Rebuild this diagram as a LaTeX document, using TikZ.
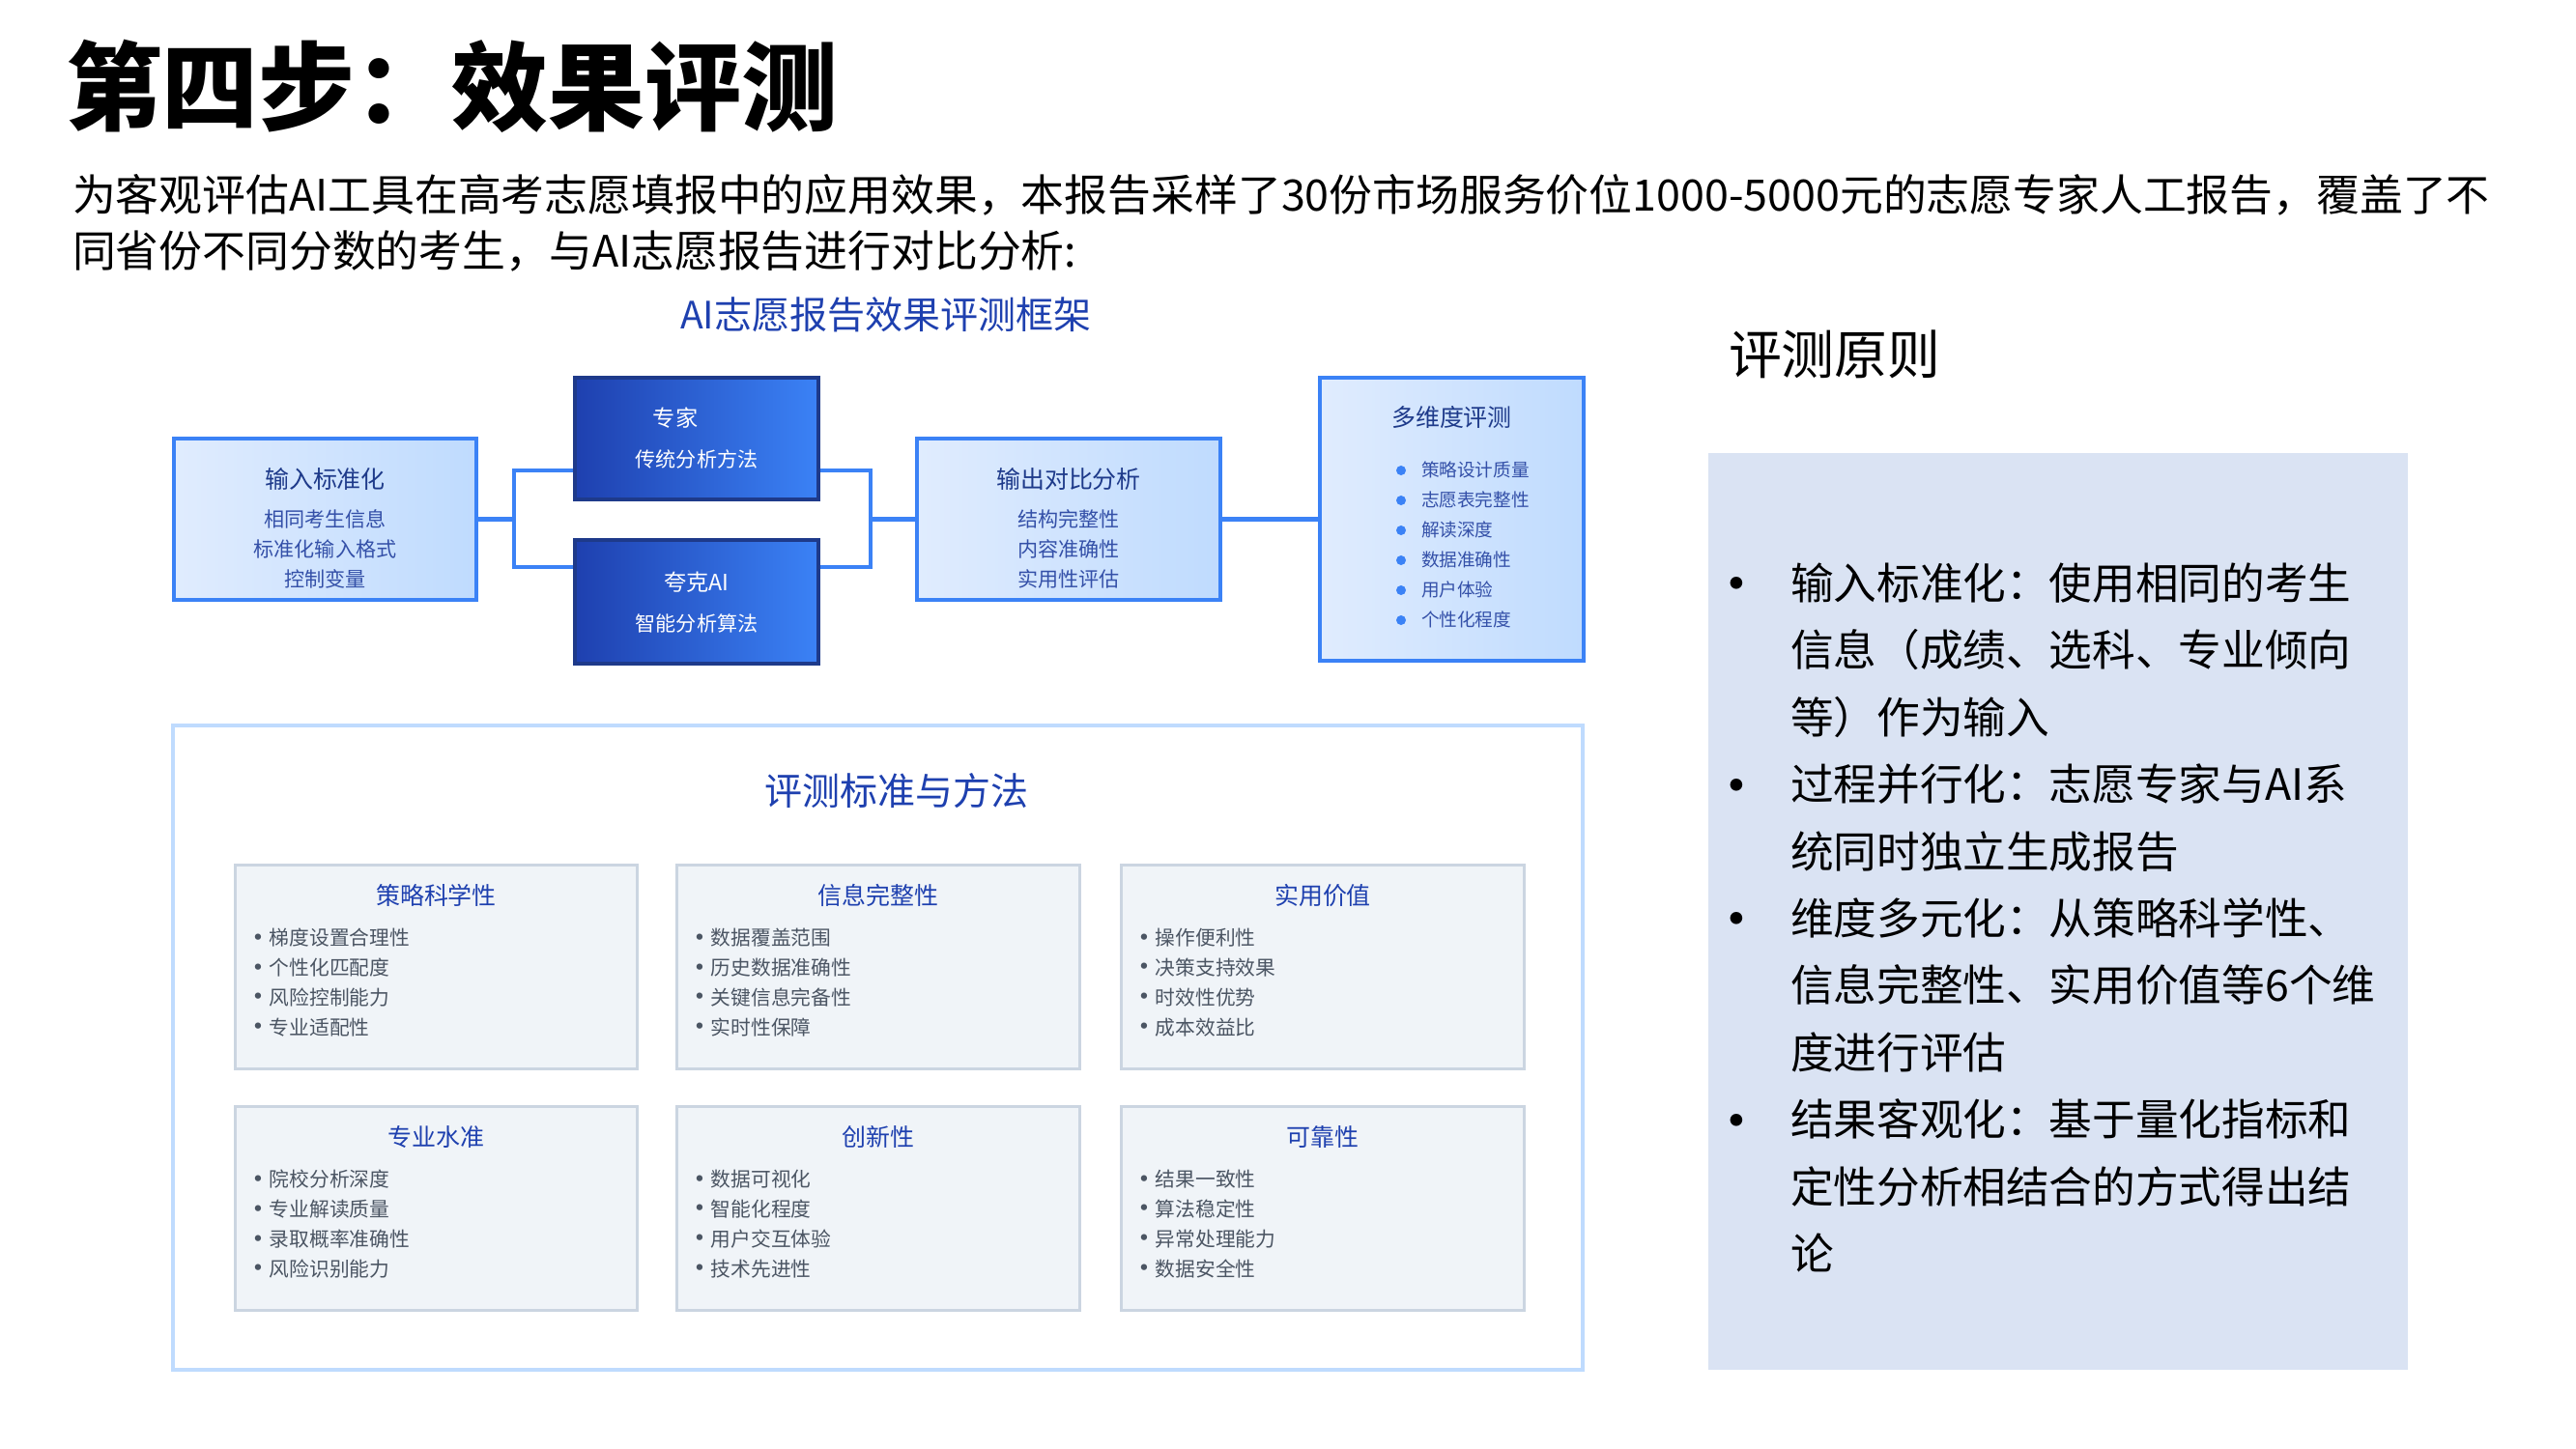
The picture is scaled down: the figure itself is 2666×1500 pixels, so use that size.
\documentclass[tikz,border=0pt]{standalone}
\usepackage{fontspec}
\setmainfont{Noto Sans CJK SC}
\usetikzlibrary{positioning}
\definecolor{cfline}{RGB}{59,130,246}
\definecolor{cflightL}{RGB}{224,236,254}
\definecolor{cflightR}{RGB}{191,219,254}
\definecolor{cfdeep}{RGB}{30,64,175}
\definecolor{cfnavy}{RGB}{30,58,138}
\definecolor{cfsub}{RGB}{52,80,168}
\definecolor{cfpale}{RGB}{191,219,254}
\definecolor{cfcard}{RGB}{240,244,248}
\definecolor{cfcardline}{RGB}{203,213,225}
\definecolor{cfgray}{RGB}{75,85,99}
\definecolor{cfpanel}{RGB}{218,227,243}
\newcommand{\rulebullet}{\llap{\makebox[15.9pt][l]{\makebox[0pt]{\raisebox{-1.8pt}{\fontsize{17}{17}\selectfont •}}}}}
\newcommand{\cardbullet}{\makebox[3.4pt][l]{\makebox[0pt]{\raisebox{-0.7pt}{\fontsize{8.5}{8.5}\selectfont •}}}}

\begin{document}
\begin{tikzpicture}[x=0.01cm, y=-0.01cm]
  \tikzset{
    txt/.style={inner sep=0pt, outer sep=0pt},
    lightbox/.style={draw=cfline, line width=1pt, left color=cflightL, right color=cflightR},
    darkbox/.style={draw=cfnavy, line width=1pt, left color=cfdeep, right color=cfline},
    link/.style={draw=cfline, line width=1.15pt},
    boxtitle/.style={txt, text=cfnavy, font=\fontsize{7.1}{8.5}\selectfont},
    boxsub/.style={txt, text=cfsub, align=center, font=\fontsize{6}{8.8}\selectfont},
    darktitle/.style={txt, text=white, font=\fontsize{6.6}{8}\selectfont},
    darksub/.style={txt, text=white, font=\fontsize{6}{8}\selectfont},
    bluehead/.style={txt, text=cfdeep, font=\fontsize{11.1}{13}\selectfont},
    card/.style={draw=cfcardline, line width=0.85pt, fill=cfcard, minimum width=4.16cm, minimum height=2.1cm},
    cardtitle/.style={txt, text=cfdeep, font=\fontsize{7.1}{8.5}\selectfont},
    carditem/.style={txt, anchor=west, text=cfgray, align=left, font=\fontsize{5.9}{8.8}\selectfont}
  }
  \path[use as bounding box, fill=white] (0,0) rectangle (2666,1500);

  % heading and intro
  \node[txt, anchor=west, font=\fontsize{28.4}{34}\selectfont\bfseries] (heading) at (68,89) {第四步：效果评测};
  \node[txt, anchor=west, align=left, font=\fontsize{12.75}{16.5}\selectfont] (intro) at (75,231)
    {为客观评估AI工具在高考志愿填报中的应用效果，本报告采样了30份市场服务价位1000-5000元的志愿专家人工报告，覆盖了不\\同省份不同分数的考生，与AI志愿报告进行对比分析:};

  % framework
  \node[bluehead] (fwhead) at (917,326) {AI志愿报告效果评测框架};

  \node[lightbox, minimum width=3.13cm, minimum height=1.67cm] (inbox) at (336.5,537.5) {};
  \node[boxtitle] (intitle) at (336.5,496) {输入标准化};
  \node[boxsub] (insub) at (336.5,568) {相同考生信息\\标准化输入格式\\控制变量};

  \node[darkbox, minimum width=2.52cm, minimum height=1.26cm] (expert) at (721,454) {};
  \node[darktitle] (experttitle) at (699,433) {专家};
  \node[darksub] (expertsub) at (721,475) {传统分析方法};

  \node[darkbox, minimum width=2.52cm, minimum height=1.28cm] (aibox) at (721,623) {};
  \node[darktitle] (aititle) at (721,603) {夸克AI};
  \node[darksub] (aisub) at (721,645) {智能分析算法};

  \node[lightbox, minimum width=3.14cm, minimum height=1.67cm] (outbox) at (1106,537.5) {};
  \node[boxtitle] (outtitle) at (1106,496) {输出对比分析};
  \node[boxsub] (outsub) at (1106,568) {结构完整性\\内容准确性\\实用性评估};

  \node[lightbox, minimum width=2.73cm, minimum height=2.93cm] (multibox) at (1502.5,537.5) {};
  \node[boxtitle] (multititle) at (1502.5,432) {多维度评测};
  \node[boxsub, anchor=west, align=left, font=\fontsize{5.3}{8.82}\selectfont] (multilist) at (1471,564)
    {策略设计质量\\志愿表完整性\\解读深度\\数据准确性\\用户体验\\个性化程度};
  \foreach \y in {487,518,549,580,611,642}
    \fill[cfline] (1450,\y) circle (0.05cm);

  \coordinate (ljoin) at (532,537.5);
  \coordinate (rjoin) at (901,537.5);
  \draw[link] (inbox.east) -- (ljoin);
  \draw[link] ([yshift=-0.33cm]expert.west) -| (ljoin) |- ([yshift=0.36cm]aibox.west);
  \draw[link] ([yshift=-0.33cm]expert.east) -| (rjoin) |- ([yshift=0.36cm]aibox.east);
  \draw[link] (rjoin) -- (outbox.west);
  \draw[link] (outbox.east) -- (multibox.west);

  % criteria
  \node[draw=cfpale, line width=1.3pt, fill=white, minimum width=14.58cm, minimum height=6.67cm] (evalbox) at (908.5,1084.5) {};
  \node[bluehead] (evalhead) at (928,819) {评测标准与方法};

  \node[card] (c1) at (451.5,1001) {};
  \node[cardtitle] at (451.5,927) {策略科学性};
  \node[carditem] at (267,1017.5) {\cardbullet 梯度设置合理性\\\cardbullet 个性化匹配度\\\cardbullet 风险控制能力\\\cardbullet 专业适配性};

  \node[card] (c2) at (909,1001) {};
  \node[cardtitle] at (909,927) {信息完整性};
  \node[carditem] at (724,1017.5) {\cardbullet 数据覆盖范围\\\cardbullet 历史数据准确性\\\cardbullet 关键信息完备性\\\cardbullet 实时性保障};

  \node[card] (c3) at (1369,1001) {};
  \node[cardtitle] at (1369,927) {实用价值};
  \node[carditem] at (1184,1017.5) {\cardbullet 操作便利性\\\cardbullet 决策支持效果\\\cardbullet 时效性优势\\\cardbullet 成本效益比};

  \node[card] (c4) at (451.5,1251) {};
  \node[cardtitle] at (451.5,1177) {专业水准};
  \node[carditem] at (267,1267.5) {\cardbullet 院校分析深度\\\cardbullet 专业解读质量\\\cardbullet 录取概率准确性\\\cardbullet 风险识别能力};

  \node[card] (c5) at (909,1251) {};
  \node[cardtitle] at (909,1177) {创新性};
  \node[carditem] at (724,1267.5) {\cardbullet 数据可视化\\\cardbullet 智能化程度\\\cardbullet 用户交互体验\\\cardbullet 技术先进性};

  \node[card] (c6) at (1369,1251) {};
  \node[cardtitle] at (1369,1177) {可靠性};
  \node[carditem] at (1184,1267.5) {\cardbullet 结果一致性\\\cardbullet 算法稳定性\\\cardbullet 异常处理能力\\\cardbullet 数据安全性};

  % principles
  \node[txt, anchor=west, font=\fontsize{15.6}{18}\selectfont] (rulehead) at (1789,367) {评测原则};
  \node[fill=cfpanel, minimum width=7.24cm, minimum height=9.49cm] (rulepanel) at (2130,943.5) {};
  \node[txt, anchor=west, align=left, font=\fontsize{12.7}{19.74}\selectfont] (rules) at (1853,950)
    {\rulebullet 输入标准化：使用相同的考生\\
     信息（成绩、选科、专业倾向\\
     等）作为输入\\
     \rulebullet 过程并行化：志愿专家与AI系\\
     统同时独立生成报告\\
     \rulebullet 维度多元化：从策略科学性、\\
     信息完整性、实用价值等6个维\\
     度进行评估\\
     \rulebullet 结果客观化：基于量化指标和\\
     定性分析相结合的方式得出结\\
     论};
\end{tikzpicture}
\end{document}
